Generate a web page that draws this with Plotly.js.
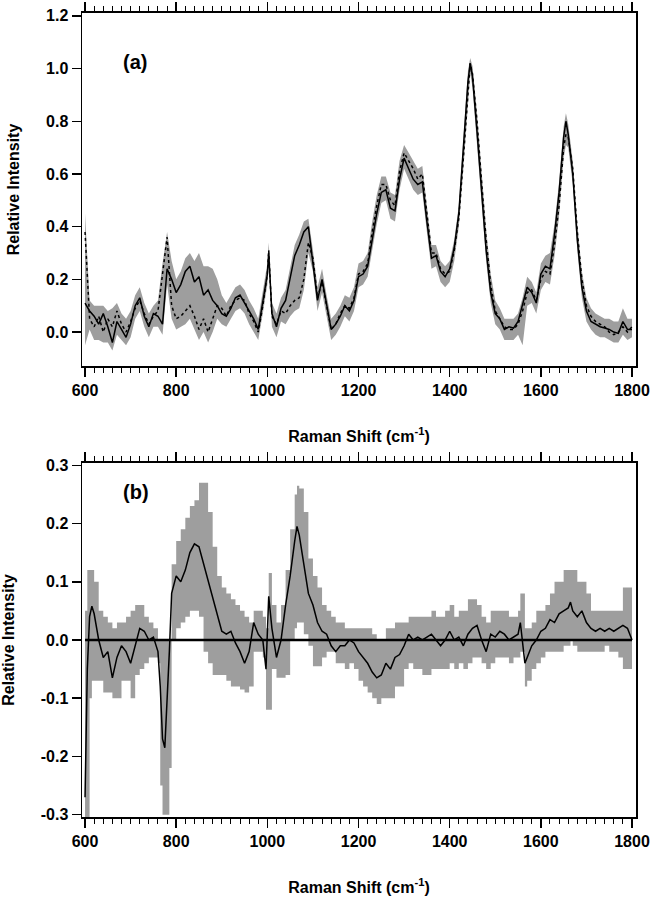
<!DOCTYPE html>
<html>
<head>
<meta charset="utf-8">
<script src="https://cdn.plot.ly/plotly-3.0.1.min.js"></script>
<style>
  body { margin: 0; background: white; }
  #plot { width: 651px; height: 900px; }
</style>
</head>
<body>
<div id="plot"></div>
<script>
// panel (a): average spectra of the two groups and the grey spread
const shiftA = [600, 610, 620, 630, 640, 650, 660, 670, 680, 690, 700, 710, 720, 730, 740, 750, 760, 770, 780, 790,
  800, 810, 820, 830, 840, 850, 860, 870, 880, 890, 900, 910, 920, 930, 940, 950, 960, 970, 980, 990,
  1000, 1003, 1010, 1020, 1030, 1040, 1050, 1060, 1070, 1080, 1090, 1100, 1110, 1120, 1130, 1140, 1150, 1160, 1170, 1180, 1190,
  1200, 1210, 1220, 1230, 1240, 1250, 1260, 1270, 1280, 1290, 1300, 1310, 1320, 1330, 1340, 1350, 1360, 1370, 1380, 1390,
  1400, 1410, 1420, 1430, 1440, 1445, 1450, 1460, 1470, 1480, 1490, 1500, 1510, 1520, 1530, 1540, 1550, 1560, 1570, 1580, 1590,
  1600, 1610, 1620, 1630, 1640, 1650, 1655, 1660, 1670, 1680, 1690, 1700, 1710, 1720, 1730, 1740, 1750, 1760, 1770, 1780, 1790, 1800];

const solidA = [0.11, 0.08, 0.06, 0.03, 0.07, 0.02, -0.04, 0.04, 0.01, -0.02, 0.03, 0.10, 0.13, 0.06, 0.02, 0.07, 0.06, 0.03, 0.24, 0.20,
  0.15, 0.18, 0.23, 0.25, 0.19, 0.21, 0.14, 0.16, 0.12, 0.10, 0.07, 0.06, 0.09, 0.13, 0.14, 0.11, 0.08, 0.05, 0.01, 0.12,
  0.22, 0.30, 0.07, 0.02, 0.09, 0.12, 0.21, 0.29, 0.33, 0.38, 0.40, 0.27, 0.12, 0.20, 0.10, 0.01, 0.03, 0.06, 0.10, 0.08, 0.12,
  0.21, 0.22, 0.25, 0.35, 0.45, 0.53, 0.54, 0.47, 0.46, 0.58, 0.66, 0.62, 0.58, 0.56, 0.57, 0.42, 0.28, 0.29, 0.23, 0.21,
  0.24, 0.32, 0.45, 0.70, 0.95, 1.02, 0.97, 0.76, 0.52, 0.31, 0.15, 0.07, 0.05, 0.01, 0.02, 0.015, 0.04, 0.10, 0.17, 0.15, 0.11,
  0.22, 0.25, 0.24, 0.37, 0.53, 0.74, 0.80, 0.75, 0.60, 0.35, 0.17, 0.08, 0.04, 0.03, 0.02, 0.015, 0.01, 0.0, -0.005, 0.04, 0.01, 0.01];

const dottedA = [0.38, 0.05, 0.02, 0.06, 0.0, 0.05, 0.02, 0.08, 0.03, 0.0, 0.04, 0.09, 0.12, 0.07, 0.03, 0.06, 0.08, 0.22, 0.36, 0.10,
  0.05, 0.06, 0.08, 0.10, 0.06, 0.01, 0.05, 0.0, 0.05, 0.10, 0.09, 0.06, 0.10, 0.12, 0.13, 0.12, 0.07, 0.04, 0.0, 0.10,
  0.22, 0.31, 0.06, 0.03, 0.08, 0.07, 0.10, 0.12, 0.13, 0.20, 0.34, 0.28, 0.13, 0.19, 0.10, 0.01, 0.03, 0.07, 0.10, 0.09, 0.13,
  0.22, 0.23, 0.26, 0.38, 0.48, 0.56, 0.56, 0.50, 0.48, 0.61, 0.68, 0.65, 0.62, 0.58, 0.60, 0.45, 0.30, 0.30, 0.24, 0.22,
  0.23, 0.31, 0.43, 0.66, 0.92, 1.02, 0.98, 0.80, 0.57, 0.35, 0.18, 0.08, 0.05, 0.02, 0.01, 0.01, 0.03, 0.08, 0.15, 0.16, 0.12,
  0.20, 0.23, 0.22, 0.33, 0.48, 0.70, 0.75, 0.74, 0.62, 0.38, 0.20, 0.10, 0.06, 0.04, 0.03, 0.02, 0.0, -0.01, 0.0, 0.02, 0.0, 0.02];

const upperA = [0.45, 0.12, 0.10, 0.10, 0.10, 0.08, 0.09, 0.11, 0.07, 0.05, 0.08, 0.14, 0.17, 0.11, 0.07, 0.10, 0.12, 0.26, 0.38, 0.27,
  0.20, 0.23, 0.28, 0.30, 0.27, 0.30, 0.25, 0.25, 0.24, 0.20, 0.14, 0.11, 0.14, 0.17, 0.18, 0.16, 0.12, 0.09, 0.05, 0.15,
  0.26, 0.34, 0.11, 0.07, 0.13, 0.16, 0.25, 0.33, 0.37, 0.42, 0.43, 0.31, 0.17, 0.24, 0.14, 0.05, 0.07, 0.10, 0.14, 0.13, 0.17,
  0.26, 0.27, 0.30, 0.42, 0.52, 0.59, 0.59, 0.53, 0.52, 0.65, 0.71, 0.68, 0.65, 0.62, 0.63, 0.49, 0.33, 0.33, 0.27, 0.25,
  0.27, 0.35, 0.48, 0.73, 0.99, 1.04, 1.01, 0.83, 0.60, 0.39, 0.22, 0.12, 0.09, 0.05, 0.05, 0.05, 0.07, 0.13, 0.21, 0.19, 0.15,
  0.26, 0.29, 0.30, 0.41, 0.57, 0.78, 0.83, 0.79, 0.65, 0.41, 0.23, 0.13, 0.09, 0.07, 0.06, 0.05, 0.05, 0.04, 0.04, 0.09, 0.05, 0.05];

const lowerA = [-0.05, 0.01, -0.03, -0.03, -0.04, -0.04, -0.07, -0.01, -0.03, -0.05, -0.02, 0.05, 0.08, 0.02, -0.02, 0.02, 0.02, -0.01, 0.18, 0.05,
  0.01, 0.02, 0.03, 0.05, 0.01, -0.03, 0.0, -0.04, 0.0, 0.05, 0.03, 0.02, 0.05, 0.08, 0.09, 0.07, 0.03, 0.0, -0.03, 0.07,
  0.18, 0.27, 0.02, -0.02, 0.04, 0.03, 0.06, 0.08, 0.09, 0.16, 0.30, 0.23, 0.08, 0.15, 0.06, -0.03, -0.01, 0.02, 0.06, 0.04, 0.08,
  0.17, 0.18, 0.21, 0.31, 0.41, 0.49, 0.50, 0.43, 0.42, 0.54, 0.62, 0.58, 0.54, 0.52, 0.53, 0.38, 0.24, 0.25, 0.19, 0.17,
  0.19, 0.27, 0.40, 0.62, 0.88, 0.98, 0.93, 0.72, 0.48, 0.27, 0.11, 0.03, 0.01, -0.03, -0.03, -0.03, -0.01, -0.05, 0.10, 0.11, 0.07,
  0.16, 0.19, 0.18, 0.29, 0.44, 0.66, 0.71, 0.70, 0.56, 0.31, 0.13, 0.04, 0.01, -0.01, -0.02, -0.02, -0.03, -0.04, -0.04, -0.01, -0.03, -0.02];

// panel (b): difference spectrum and its spread
const shiftB = [600, 605, 610, 615, 620, 630, 640, 650, 660, 670, 680, 690, 700, 710, 720, 730, 740, 750, 760, 765, 770, 775, 780, 785, 790,
  800, 810, 820, 830, 840, 850, 860, 870, 880, 890, 900, 910, 920, 930, 940, 950, 960, 970, 980, 990, 997,
  1003, 1010, 1020, 1030, 1040, 1050, 1060, 1065, 1070, 1080, 1090, 1100, 1110, 1120, 1130, 1140, 1150, 1160, 1170, 1180, 1190,
  1200, 1210, 1220, 1230, 1240, 1250, 1260, 1270, 1280, 1290, 1300, 1310, 1320, 1330, 1340, 1350, 1360, 1370, 1380, 1390,
  1400, 1410, 1420, 1430, 1440, 1450, 1460, 1470, 1480, 1490, 1500, 1510, 1520, 1530, 1540, 1550, 1555, 1565, 1570, 1580, 1590,
  1600, 1610, 1620, 1630, 1640, 1650, 1660, 1665, 1670, 1680, 1690, 1700, 1710, 1720, 1730, 1740, 1750, 1760, 1770, 1780, 1790, 1800];

const diffB = [-0.27, -0.05, 0.04, 0.058, 0.045, 0.0, -0.03, -0.02, -0.065, -0.03, -0.01, -0.02, -0.04, -0.01, 0.02, 0.015, 0.0, 0.005, -0.02, -0.08, -0.17, -0.185, -0.11, -0.02, 0.08,
  0.11, 0.10, 0.12, 0.15, 0.165, 0.16, 0.13, 0.10, 0.07, 0.04, 0.015, 0.01, 0.015, -0.005, -0.02, -0.04, -0.02, 0.03, 0.01, 0.0, -0.05,
  0.075, 0.02, -0.03, 0.0, 0.06, 0.11, 0.17, 0.195, 0.18, 0.13, 0.08, 0.06, 0.03, 0.015, 0.01, -0.01, -0.02, -0.01, -0.01, 0.0, -0.005,
  -0.02, -0.03, -0.04, -0.055, -0.065, -0.06, -0.04, -0.05, -0.03, -0.025, -0.01, 0.01, 0.0, 0.005, 0.0, 0.005, 0.01, 0.0, -0.01, 0.0,
  0.015, 0.0, 0.005, -0.01, 0.01, 0.02, 0.025, 0.0, -0.02, 0.01, 0.005, 0.015, 0.01, 0.0, 0.005, 0.01, 0.03, -0.04, -0.03, -0.01, 0.0,
  0.015, 0.02, 0.035, 0.03, 0.045, 0.05, 0.055, 0.065, 0.05, 0.04, 0.05, 0.03, 0.02, 0.015, 0.02, 0.015, 0.02, 0.015, 0.02, 0.025, 0.02, 0.0];

const upperB = [0.05, 0.12, 0.12, 0.12, 0.10, 0.05, 0.04, 0.03, 0.02, 0.03, 0.03, 0.04, 0.05, 0.06, 0.06, 0.04, 0.03, 0.02, 0.0, 0.0, 0.0, 0.0, 0.0, 0.0, 0.13,
  0.17, 0.19, 0.21, 0.23, 0.24, 0.27, 0.27, 0.22, 0.16, 0.11, 0.09, 0.08, 0.07, 0.06, 0.05, 0.04, 0.03, 0.05, 0.05, 0.04, 0.02,
  0.115, 0.06, 0.03, 0.06, 0.12, 0.19, 0.25, 0.265, 0.26, 0.22, 0.14, 0.11, 0.09, 0.06, 0.05, 0.04, 0.03, 0.03, 0.02, 0.02, 0.02,
  0.02, 0.02, 0.02, 0.01, 0.0, 0.0, 0.02, 0.02, 0.03, 0.03, 0.03, 0.04, 0.04, 0.04, 0.04, 0.04, 0.05, 0.04, 0.04, 0.05,
  0.06, 0.04, 0.05, 0.05, 0.07, 0.07, 0.06, 0.04, 0.03, 0.05, 0.05, 0.05, 0.05, 0.04, 0.04, 0.05, 0.08, 0.02, 0.02, 0.03, 0.05,
  0.05, 0.06, 0.08, 0.10, 0.10, 0.12, 0.12, 0.12, 0.12, 0.10, 0.10, 0.08, 0.05, 0.05, 0.05, 0.05, 0.05, 0.05, 0.05, 0.09, 0.09, 0.05];

const lowerB = [-0.31, -0.31, -0.10, -0.07, -0.07, -0.07, -0.09, -0.09, -0.10, -0.10, -0.07, -0.07, -0.10, -0.06, -0.05, -0.04, -0.03, -0.03, -0.04, -0.25, -0.30, -0.30, -0.30, -0.22, 0.0,
  0.02, 0.03, 0.04, 0.05, 0.05, 0.04, -0.02, -0.04, -0.06, -0.06, -0.06, -0.07, -0.08, -0.08, -0.085, -0.09, -0.08, -0.02, -0.02, -0.03, -0.12,
  -0.12, -0.05, -0.065, -0.065, -0.06, 0.0, 0.02, 0.03, 0.03, 0.01, -0.01, -0.045, -0.045, -0.03, -0.02, -0.02, -0.04, -0.04, -0.05, -0.04, -0.05,
  -0.07, -0.08, -0.09, -0.10, -0.11, -0.10, -0.10, -0.10, -0.08, -0.08, -0.05, -0.04, -0.05, -0.05, -0.06, -0.06, -0.05, -0.05, -0.05, -0.05,
  -0.04, -0.05, -0.04, -0.05, -0.04, -0.03, -0.03, -0.04, -0.05, -0.04, -0.03, -0.03, -0.03, -0.04, -0.03, -0.03, -0.02, -0.08, -0.07, -0.05, -0.04,
  -0.03, -0.02, -0.02, -0.02, -0.02, -0.01, -0.01, 0.0, -0.01, -0.02, -0.02, -0.02, -0.02, -0.02, -0.02, -0.01, -0.02, -0.02, -0.03, -0.05, -0.05, -0.04];

const tickA = [0, 0.2, 0.4, 0.6, 0.8, 1.0, 1.2];
const tickTextA = ["0.0", "0.2", "0.4", "0.6", "0.8", "1.0", "1.2"];
const tickB = [-0.3, -0.2, -0.1, 0, 0.1, 0.2, 0.3];
const tickTextB = ["-0.3", "-0.2", "-0.1", "0.0", "0.1", "0.2", "0.3"];

const grey = "rgb(158,158,158)";
const font = { family: "Liberation Sans, Arial, sans-serif", color: "black", size: 16, weight: "bold" };

const data = [
    { x: shiftA, y: lowerA, xaxis: "x", yaxis: "y", mode: "lines", line: { width: 0, color: grey }, hoverinfo: "skip" },
    { x: shiftA, y: upperA, xaxis: "x", yaxis: "y", mode: "lines", line: { width: 0, color: grey },
      fill: "tonexty", fillcolor: grey, hoverinfo: "skip" },
    { x: shiftA, y: dottedA, xaxis: "x", yaxis: "y", mode: "lines", line: { color: "black", width: 1.5, dash: "dot" } },
    { x: shiftA, y: solidA, xaxis: "x", yaxis: "y", mode: "lines", line: { color: "black", width: 1.5 } },

    { x: shiftB, y: lowerB, xaxis: "x2", yaxis: "y2", mode: "lines", line: { width: 0, color: grey, shape: "hv" }, hoverinfo: "skip" },
    { x: shiftB, y: upperB, xaxis: "x2", yaxis: "y2", mode: "lines", line: { width: 0, color: grey, shape: "hv" },
      fill: "tonexty", fillcolor: grey, hoverinfo: "skip" },
    { x: shiftB, y: diffB, xaxis: "x2", yaxis: "y2", mode: "lines", line: { color: "black", width: 1.5 } },
];

const xCommon = {
    range: [593.4, 1808.8],
    tick0: 600,
    dtick: 200,
    ticks: "outside",
    ticklen: 9,
    tickwidth: 1.5,
    tickcolor: "black",
    minor: { dtick: 20, ticks: "outside", ticklen: 5, tickwidth: 1, tickcolor: "black" },
    showline: true,
    linecolor: "black",
    linewidth: 1.5,
    mirror: "ticks",
    showgrid: false,
    zeroline: false,
    tickfont: font,
    title: { text: "Raman Shift (cm<sup>-1</sup>)", font: font, standoff: 33 },
};

const yCommon = {
    ticks: "outside",
    ticklen: 9,
    tickwidth: 1.5,
    tickcolor: "black",
    showline: true,
    linecolor: "black",
    linewidth: 1.5,
    mirror: true,
    showgrid: false,
    zeroline: false,
    tickfont: font,
    title: { text: "Relative Intensity", font: font, standoff: 22 },
};

const layout = {
    width: 651,
    height: 900,
    margin: { l: 0, r: 0, t: 0, b: 0 },
    paper_bgcolor: "white",
    plot_bgcolor: "white",
    showlegend: false,
    xaxis: Object.assign({}, xCommon, { domain: [0.126, 0.977], anchor: "y" }),
    yaxis: Object.assign({}, yCommon, {
        domain: [0.5933, 0.9856], anchor: "x", range: [-0.129, 1.211],
        tickvals: tickA, ticktext: tickTextA,
    }),
    xaxis2: Object.assign({}, xCommon, { domain: [0.126, 0.977], anchor: "y2" }),
    yaxis2: Object.assign({}, yCommon, {
        domain: [0.0922, 0.4856], anchor: "x2", range: [-0.304, 0.304],
        tickvals: tickB, ticktext: tickTextB,
    }),
    shapes: [
        // zero reference of the difference spectrum, drawn over the grey band
        { type: "line", xref: "x2", yref: "y2", x0: 600, x1: 1800, y0: 0, y1: 0,
          line: { color: "black", width: 2.5 }, layer: "above" },
    ],
    annotations: [
        { text: "(a)", xref: "paper", yref: "paper", x: 0.186, y: 0.9456, showarrow: false,
          font: { family: font.family, size: 20, weight: "bold", color: "black" } },
        { text: "(b)", xref: "paper", yref: "paper", x: 0.186, y: 0.453, showarrow: false,
          font: { family: font.family, size: 20, weight: "bold", color: "black" } },
    ],
};

Plotly.newPlot(document.getElementById("plot"), data, layout, { staticPlot: true });
</script>
</body>
</html>
